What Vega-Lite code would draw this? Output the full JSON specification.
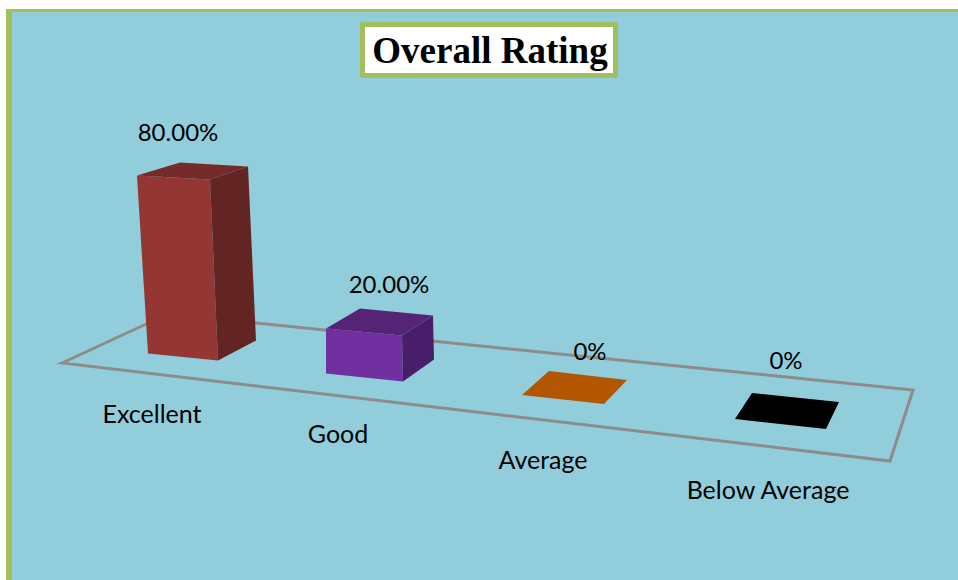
{
"$schema":"https://vega.github.io/schema/vega-lite/v6.json",
"width":958,"height":580,"padding":0,"autosize":{"type":"none","contains":"padding"},"background":"#ffffff",
"config":{"view":{"stroke":null}},
"datasets":{"ratings":[
{"rating":"Excellent","value":80,"label":"80.00%"},
{"rating":"Good","value":20,"label":"20.00%"},
{"rating":"Average","value":0,"label":"0%"},
{"rating":"Below Average","value":0,"label":"0%"}]},
"data":{"name":"ratings"},
"encoding":{
"x":{"field":"rating","type":"nominal","axis":null,"sort":null,"scale":{"type":"point","domain":["Excellent","Good","Average","Below Average"],"range":[190,790],"padding":0}},
"y":{"field":"value","type":"quantitative","axis":null,"scale":{"domain":[0,100],"range":[383,125]}}
},
"layer":[
{"mark":{"type":"point","filled":true,"opacity":1,"size":4,"fill":"#A1BF5B","stroke":null,"shape":"M-184,-374L768,-374L768,197L-184,197Z"},"encoding":{"x":{"datum":"Excellent"},"y":{"datum":0}},"transform":[{"filter":"datum.rating==='Excellent'"}]},
{"mark":{"type":"point","filled":true,"opacity":1,"size":4,"fill":"#92CDDC","stroke":null,"shape":"M-178,-371L768,-371L768,197L-178,197Z"},"encoding":{"x":{"datum":"Excellent"},"y":{"datum":0}},"transform":[{"filter":"datum.rating==='Excellent'"}]},
{"mark":{"type":"point","filled":false,"opacity":1,"size":4,"fill":null,"stroke":"#8C8C8C","strokeWidth":3,"shape":"M-128,-20L-22,-69L723,7L700,78Z"},"encoding":{"x":{"datum":"Excellent"},"y":{"datum":0}},"transform":[{"filter":"datum.rating==='Excellent'"}]},
{"transform":[{"filter":"datum.value>0"}],"mark":{"type":"point","filled":true,"opacity":1,"size":4,"stroke":null},"encoding":{
"shape":{"field":"rating","type":"nominal","legend":null,"scale":{"domain":["Excellent","Good"],"range":["M-53,-1L20,3L28,184L-42,177Z","M-64,-3L12,4L13,50L-64,42Z"]}},
"color":{"field":"rating","type":"nominal","legend":null,"scale":{"domain":["Excellent","Good"],"range":["#943634","#7030A0"]}}}},
{"transform":[{"filter":"datum.value>0"}],"mark":{"type":"point","filled":true,"opacity":1,"size":4,"stroke":null},"encoding":{
"shape":{"field":"rating","type":"nominal","legend":null,"scale":{"domain":["Excellent","Good"],"range":["M20,3L58,-10L66,164L28,184Z","M12,4L43,-16L44,28L13,50Z"]}},
"color":{"field":"rating","type":"nominal","legend":null,"scale":{"domain":["Excellent","Good"],"range":["#632523","#481E6A"]}}}},
{"mark":{"type":"point","filled":true,"opacity":1,"size":4,"stroke":null},"encoding":{
"shape":{"field":"rating","type":"nominal","legend":null,"scale":{"domain":["Excellent","Good","Average","Below Average"],"range":["M-53,-1L-10,-14L58,-10L20,3Z","M-64,-3L-30,-23L43,-16L12,4Z","M-68,12L-41,-12L37,-3L14,21Z","M-55,36L-38,10L49,19L36,46Z"]}},
"color":{"field":"rating","type":"nominal","legend":null,"scale":{"domain":["Excellent","Good","Average","Below Average"],"range":["#742B2A","#562476","#B35600","#000000"]}}}},
{"transform":[{"filter":"datum.rating==='Excellent'"}],"mark":{"type":"point","filled":true,"opacity":1,"size":4,"fill":"#ffffff","stroke":"#A1BF5B","strokeWidth":5,"strokeJoin":"round","shape":"M172.5,-100.5L425.5,-100.5L425.5,-49.5L172.5,-49.5Z"},"encoding":{"x":{"datum":"Excellent"},"y":{"datum":100}}},
{"transform":[{"filter":"datum.rating==='Good'"}],"mark":{"type":"text","font":"Liberation Serif","fontWeight":"bold","fontSize":37,"color":"#000000","baseline":"middle","align":"center","dx":100,"dy":-73,"text":"Overall Rating"},"encoding":{"y":{"datum":100}}},
{"transform":[{"filter":"datum.rating==='Excellent'"}],"mark":{"type":"text","font":"Lato","fontSize":24,"color":"#000000","baseline":"middle","align":"center","dx":-12,"dy":-43},"encoding":{"text":{"field":"label"}}},
{"transform":[{"filter":"datum.rating==='Good'"}],"mark":{"type":"text","font":"Lato","fontSize":24,"color":"#000000","baseline":"middle","align":"center","dx":-1,"dy":-45},"encoding":{"text":{"field":"label"}}},
{"transform":[{"filter":"datum.rating==='Average'"}],"mark":{"type":"text","font":"Lato","fontSize":24,"color":"#000000","baseline":"middle","align":"center","dx":0,"dy":-30},"encoding":{"text":{"field":"label"}}},
{"transform":[{"filter":"datum.rating==='Below Average'"}],"mark":{"type":"text","font":"Lato","fontSize":24,"color":"#000000","baseline":"middle","align":"center","dx":-4,"dy":-21},"encoding":{"text":{"field":"label"}}},
{"transform":[{"filter":"datum.rating==='Excellent'"}],"mark":{"type":"text","font":"Lato","fontSize":25,"color":"#000000","baseline":"middle","align":"center","dx":-38,"dy":32},"encoding":{"y":{"datum":0},"text":{"field":"rating"}}},
{"transform":[{"filter":"datum.rating==='Good'"}],"mark":{"type":"text","font":"Lato","fontSize":25,"color":"#000000","baseline":"middle","align":"center","dx":-52,"dy":52},"encoding":{"y":{"datum":0},"text":{"field":"rating"}}},
{"transform":[{"filter":"datum.rating==='Average'"}],"mark":{"type":"text","font":"Lato","fontSize":25,"color":"#000000","baseline":"middle","align":"center","dx":-47,"dy":78},"encoding":{"y":{"datum":0},"text":{"field":"rating"}}},
{"transform":[{"filter":"datum.rating==='Below Average'"}],"mark":{"type":"text","font":"Lato","fontSize":25,"color":"#000000","baseline":"middle","align":"center","dx":-22,"dy":108},"encoding":{"y":{"datum":0},"text":{"field":"rating"}}}
],
"resolve":{"scale":{"shape":"independent","color":"independent"}}
}
